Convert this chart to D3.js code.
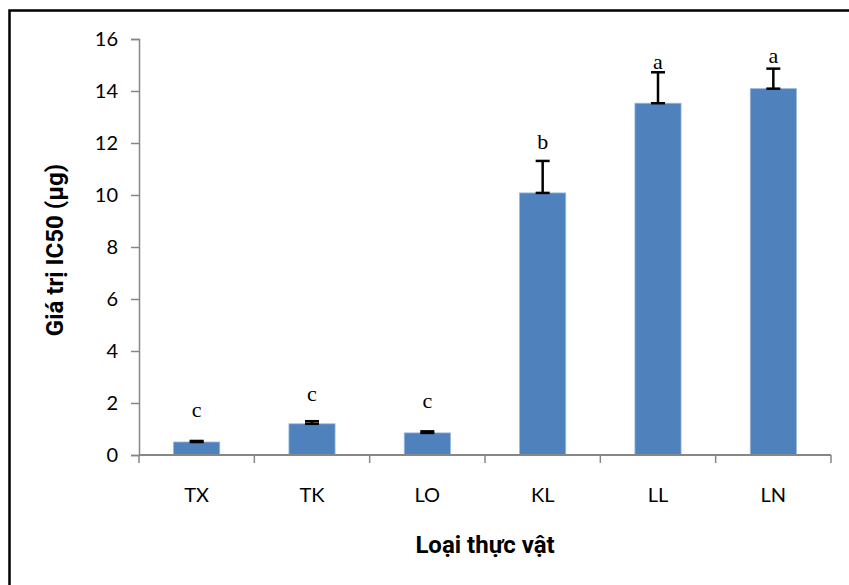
<!DOCTYPE html>
<html>
<head>
<meta charset="utf-8">
<script src="https://cdn.jsdelivr.net/npm/d3@7"></script>
<style>
  body { margin: 0; background: #fff; }
  svg { display: block; }
</style>
</head>
<body>
<div id="chart"></div>
<script>
// ===== DATA =====
const categories = ["TX", "TK", "LO", "KL", "LL", "LN"];
const ic50 = [0.5, 1.2, 0.85, 10.08, 13.53, 14.09];
const errors = [0.04, 0.1, 0.06, 1.23, 1.19, 0.77];
const groups = ["c", "c", "c", "b", "a", "a"];
const groupAt = [1.46, 2.08, 1.81, 11.77, 14.85, 15.08];
const yTicks = [0, 2, 4, 6, 8, 10, 12, 14, 16];

// ===== SIZE =====
const width = 849;
const height = 585;
const margin = { top: 39, right: 18, bottom: 130, left: 139 };

d3.select("#chart").selectAll("*").remove();

const svg = d3.select("#chart")
  .append("svg")
  .attr("width", width)
  .attr("height", height);

// frame (only left and top edges visible)
svg.append("path")
  .attr("d", `M9.5,${height} V10.5 H${width}`)
  .attr("fill", "none")
  .attr("stroke", "#000")
  .attr("stroke-width", 2.5);

const g = svg.append("g")
  .attr("transform", `translate(${margin.left},${margin.top})`);

const x = d3.scaleBand()
  .domain(categories)
  .range([0, 692])
  .paddingInner(0.6)
  .paddingOuter(0.3);

const y = d3.scaleLinear()
  .domain([0, 16])
  .range([416, 0]);

const data = categories.map((c, i) => ({
  cat: c, value: ic50[i], err: errors[i], grp: groups[i], at: groupAt[i]
}));

// y axis
const yAxis = g.append("g")
  .call(d3.axisLeft(y).tickValues(yTicks).tickSize(8).tickPadding(13));
yAxis.select(".domain").attr("stroke", "#868686").attr("stroke-width", 1.5);
yAxis.selectAll(".tick line").attr("stroke", "#868686").attr("stroke-width", 1.5);
yAxis.selectAll(".tick text")
  .style("font-family", "Lato, 'Open Sans', sans-serif")
  .style("font-size", "20px")
  .attr("fill", "#000");

// bars
g.selectAll("rect.bar")
  .data(data)
  .join("rect")
  .attr("class", "bar")
  .attr("x", d => x(d.cat))
  .attr("y", d => y(d.value))
  .attr("width", x.bandwidth())
  .attr("height", d => y(0) - y(d.value))
  .attr("fill", "#4f81bd")
  .attr("stroke", "#9ab6dc")
  .attr("stroke-width", 0.8);

// x axis (ticks between categories)
const xBounds = d3.range(categories.length + 1).map(i => i * x.step());
const xAxisG = g.append("g").attr("transform", `translate(0,${y(0)})`);
xAxisG.append("line")
  .attr("x1", 0).attr("x2", 692)
  .attr("stroke", "#868686").attr("stroke-width", 2);
xAxisG.selectAll("line.tk")
  .data(xBounds)
  .join("line")
  .attr("class", "tk")
  .attr("x1", d => d).attr("x2", d => d)
  .attr("y1", 0).attr("y2", 8)
  .attr("stroke", "#868686").attr("stroke-width", 1.5);
xAxisG.selectAll("text")
  .data(categories)
  .join("text")
  .attr("x", d => x(d) + x.bandwidth() / 2)
  .attr("y", 47)
  .attr("text-anchor", "middle")
  .style("font-family", "Lato, 'Open Sans', sans-serif")
  .style("font-size", "20px")
  .text(d => d);

// error bars
const eb = g.selectAll("g.err")
  .data(data)
  .join("g")
  .attr("class", "err")
  .attr("transform", d => `translate(${x(d.cat) + x.bandwidth() / 2},0)`);
eb.append("line")
  .attr("y1", d => y(d.value)).attr("y2", d => y(d.value + d.err))
  .attr("stroke", "#000").attr("stroke-width", 2.5);
eb.append("line")
  .attr("x1", -7).attr("x2", 7)
  .attr("y1", d => y(d.value + d.err)).attr("y2", d => y(d.value + d.err))
  .attr("stroke", "#000").attr("stroke-width", 2.5);
eb.append("line")
  .attr("x1", -7).attr("x2", 7)
  .attr("y1", d => y(d.value)).attr("y2", d => y(d.value))
  .attr("stroke", "#000").attr("stroke-width", 2.5);

// significance letters
g.selectAll("text.grp")
  .data(data)
  .join("text")
  .attr("class", "grp")
  .attr("x", d => x(d.cat) + x.bandwidth() / 2)
  .attr("y", d => y(d.at))
  .attr("text-anchor", "middle")
  .style("font-family", "'Liberation Serif', 'Times New Roman', serif")
  .style("font-size", "22px")
  .text(d => d.grp);

// axis titles
svg.append("text")
  .attr("x", 485)
  .attr("y", 553)
  .attr("text-anchor", "middle")
  .style("font-family", "'Liberation Sans Narrow', Roboto, sans-serif")
  .style("font-weight", "bold")
  .style("font-size", "24px")
  .text("Loại thực vật");

svg.append("text")
  .attr("transform", "rotate(-90)")
  .attr("x", -250)
  .attr("y", 63)
  .attr("text-anchor", "middle")
  .style("font-family", "'Liberation Sans Narrow', Roboto, sans-serif")
  .style("font-weight", "bold")
  .style("font-size", "24px")
  .text("Giá trị IC50 (µg)");
</script>
</body>
</html>
